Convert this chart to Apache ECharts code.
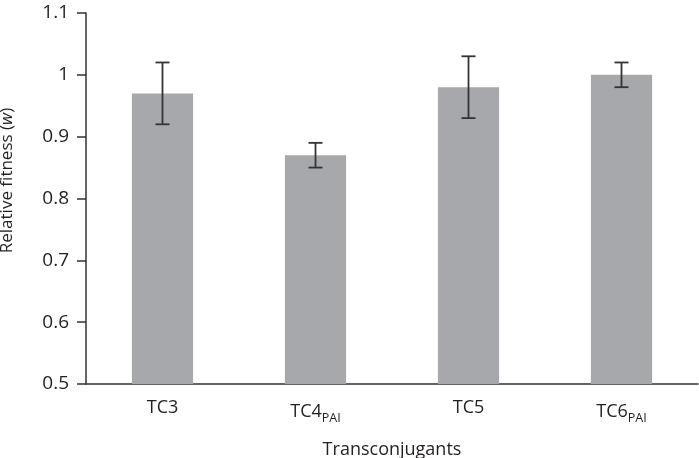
<!DOCTYPE html>
<html><head><meta charset="utf-8">
<script src="https://cdn.jsdelivr.net/npm/echarts@6/dist/echarts.min.js"></script>
<style>html,body{margin:0;padding:0;background:#fff}#c{width:699px;height:458px}</style>
</head><body><div id="c"></div>
<script>
const categories = ['TC3', 'TC4', 'TC5', 'TC6'];
const subscripts = ['', 'PAI', '', 'PAI'];
const values = [0.97, 0.87, 0.98, 1.0];
const errLow = [0.92, 0.85, 0.93, 0.98];
const errHigh = [1.02, 0.89, 1.03, 1.02];
const yTicks = [0.5, 0.6, 0.7, 0.8, 0.9, 1.0, 1.1];

const font = 'Open Sans';
const txt = '#231f20';
const chart = echarts.init(document.getElementById('c'), null, {renderer: 'canvas'});
chart.setOption({
  animation: false,
  backgroundColor: '#fff',
  grid: {left: 86, right: 1, top: 13, bottom: 74, outerBoundsMode: 'none', containLabel: false},
  xAxis: {
    type: 'category',
    data: categories,
    axisLine: {lineStyle: {color: '#333', width: 1.5}},
    axisTick: {show: false},
    axisLabel: {
      margin: 15,
      formatter: (v, i) => subscripts[i] ? '{m|' + v + '}{s|' + subscripts[i] + '}' : '{m|' + v + '}',
      rich: {
        m: {fontFamily: font, fontSize: 18, color: txt},
        s: {fontFamily: font, fontSize: 12.5, color: txt, verticalAlign: 'bottom', padding: [13, 0, 0, 0]}
      }
    },
    name: 'Transconjugants',
    nameLocation: 'middle',
    nameGap: 57,
    nameTextStyle: {fontFamily: font, fontSize: 18, color: txt}
  },
  yAxis: {
    type: 'value',
    min: yTicks[0], max: yTicks[yTicks.length - 1], interval: 0.1,
    splitLine: {show: false},
    axisLine: {show: true, lineStyle: {color: '#333', width: 1.5}},
    axisTick: {show: true, length: 9, lineStyle: {color: '#333', width: 1.5}},
    axisLabel: {
      margin: 17,
      fontFamily: font, fontSize: 19, color: txt,
      formatter: v => String(Math.round(v * 10) / 10)
    },
    name: '{n|Relative fitness (}{i|w}{n|)}',
    nameLocation: 'middle',
    nameGap: 70,
    nameTextStyle: {
      padding: [0, 0, 0, 36],
      rich: {
        n: {fontFamily: font, fontSize: 17, color: txt},
        i: {fontFamily: font, fontSize: 17, color: txt, fontStyle: 'italic'}
      }
    }
  },
  series: [
    {
      type: 'bar',
      data: values,
      barWidth: '40%',
      itemStyle: {color: '#a7a8ab'}
    },
    {
      type: 'custom',
      data: values.map((v, i) => [i, errLow[i], errHigh[i]]),
      z: 10,
      renderItem: (params, api) => {
        const lo = api.coord([api.value(0), api.value(1)]);
        const hi = api.coord([api.value(0), api.value(2)]);
        const hw = 7;
        const st = {stroke: '#333', lineWidth: 1.8};
        return {type: 'group', children: [
          {type: 'line', shape: {x1: lo[0], y1: lo[1], x2: hi[0], y2: hi[1]}, style: st},
          {type: 'line', shape: {x1: lo[0] - hw, y1: lo[1], x2: lo[0] + hw, y2: lo[1]}, style: st},
          {type: 'line', shape: {x1: hi[0] - hw, y1: hi[1], x2: hi[0] + hw, y2: hi[1]}, style: st}
        ]};
      }
    }
  ]
});
</script></body></html>
